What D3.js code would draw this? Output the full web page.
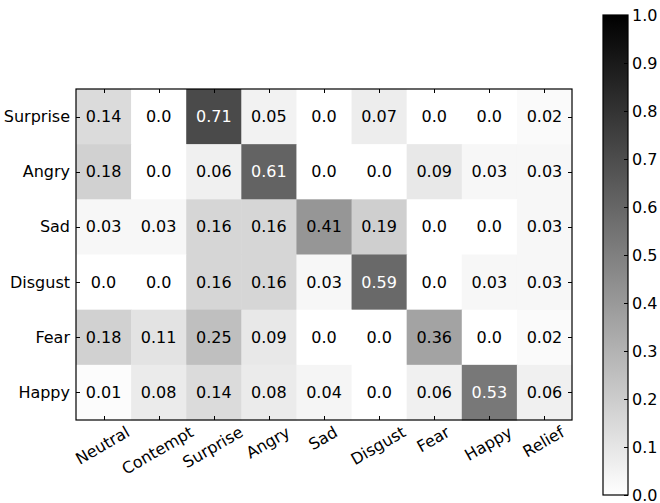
<!DOCTYPE html>
<html>
<head>
<meta charset="utf-8">
<script src="https://cdn.jsdelivr.net/npm/d3@7"></script>
<style>
  body { margin: 0; background: #fff; }
  text { font-family: "DejaVu Sans", sans-serif; font-size: 16px; }
</style>
</head>
<body>
<div id="chart"></div>
<script>
const rowLabels = ["Surprise", "Angry", "Sad", "Disgust", "Fear", "Happy"];
const colLabels = ["Neutral", "Contempt", "Surprise", "Angry", "Sad", "Disgust", "Fear", "Happy", "Relief"];
const matrix = [
  [0.14, 0.0, 0.71, 0.05, 0.0, 0.07, 0.0, 0.0, 0.02],
  [0.18, 0.0, 0.06, 0.61, 0.0, 0.0, 0.09, 0.03, 0.03],
  [0.03, 0.03, 0.16, 0.16, 0.41, 0.19, 0.0, 0.0, 0.03],
  [0.0, 0.0, 0.16, 0.16, 0.03, 0.59, 0.0, 0.03, 0.03],
  [0.18, 0.11, 0.25, 0.09, 0.0, 0.0, 0.36, 0.0, 0.02],
  [0.01, 0.08, 0.14, 0.08, 0.04, 0.0, 0.06, 0.53, 0.06]
];
const colorbarTicks = [0.0, 0.1, 0.2, 0.3, 0.4, 0.5, 0.6, 0.7, 0.8, 0.9, 1.0];

const width = 660, height = 503;
const plot = { left: 76, top: 89, right: 572, bottom: 420 };
const bar = { left: 603, right: 628, top: 15, bottom: 495 };
const tickLen = 4;

const svg = d3.select("#chart").append("svg")
  .attr("width", width)
  .attr("height", height);

const x = d3.scaleBand().domain(colLabels).range([plot.left, plot.right]);
const y = d3.scaleBand().domain(rowLabels).range([plot.top, plot.bottom]);
// linear white -> black, like matplotlib's "binary"
const color = d3.scaleLinear().domain([0, 1]).range(["#ffffff", "#000000"]);
const fmt = v => v === 0 ? "0.0" : String(v);

const cells = [];
matrix.forEach((row, i) => row.forEach((v, j) => {
  cells.push({ row: rowLabels[i], col: colLabels[j], value: v });
}));

svg.append("g").selectAll("rect")
  .data(cells)
  .enter()
  .append("rect")
  .attr("x", d => x(d.col))
  .attr("y", d => y(d.row))
  .attr("width", x.bandwidth() + 0.5)
  .attr("height", y.bandwidth() + 0.5)
  .attr("fill", d => color(d.value));

svg.append("g").selectAll("text")
  .data(cells)
  .enter()
  .append("text")
  .attr("x", d => x(d.col) + x.bandwidth() / 2)
  .attr("y", d => y(d.row) + y.bandwidth() / 2)
  .attr("text-anchor", "middle")
  .attr("dominant-baseline", "central")
  .attr("fill", d => d.value > 0.5 ? "#fff" : "#000")
  .text(d => fmt(d.value));

// ticks (inward, all four sides)
const ticks = svg.append("g").attr("stroke", "#000").attr("stroke-width", 1);
colLabels.forEach(c => {
  const cx = Math.round(x(c) + x.bandwidth() / 2) + 0.5;
  ticks.append("line").attr("x1", cx).attr("x2", cx).attr("y1", plot.top).attr("y2", plot.top + tickLen);
  ticks.append("line").attr("x1", cx).attr("x2", cx).attr("y1", plot.bottom).attr("y2", plot.bottom - tickLen);
});
rowLabels.forEach(r => {
  const cy = Math.round(y(r) + y.bandwidth() / 2) + 0.5;
  ticks.append("line").attr("x1", plot.left).attr("x2", plot.left + tickLen).attr("y1", cy).attr("y2", cy);
  ticks.append("line").attr("x1", plot.right).attr("x2", plot.right - tickLen).attr("y1", cy).attr("y2", cy);
});

svg.append("rect")
  .attr("x", plot.left)
  .attr("y", plot.top)
  .attr("width", plot.right - plot.left)
  .attr("height", plot.bottom - plot.top)
  .attr("fill", "none")
  .attr("stroke", "#000")
  .attr("stroke-width", 1.2);

// row labels
svg.append("g").selectAll("text")
  .data(rowLabels)
  .enter()
  .append("text")
  .attr("x", plot.left - 6)
  .attr("y", d => y(d) + y.bandwidth() / 2)
  .attr("text-anchor", "end")
  .attr("dominant-baseline", "central")
  .text(d => d);

// column labels, rotated 30 degrees, bbox top just under the axis
const colText = svg.append("g").selectAll("text")
  .data(colLabels)
  .enter()
  .append("text")
  .attr("text-anchor", "middle")
  .attr("dominant-baseline", "central")
  .text(d => d);
colText.each(function(d) {
  const w = this.getComputedTextLength();
  const h = 13;
  const a = Math.PI / 6;
  const bh = w * Math.sin(a) + h * Math.cos(a);
  const cx = x(d) + x.bandwidth() / 2 - 1;
  const cy = plot.bottom + 5 + bh / 2;
  d3.select(this)
    .attr("transform", `translate(${cx},${cy}) rotate(-30)`);
});

// colorbar
const cb = d3.scaleLinear().domain([0, 1]).range([bar.bottom, bar.top]);
const grad = svg.append("defs").append("linearGradient")
  .attr("id", "cbgrad")
  .attr("x1", 0).attr("x2", 0).attr("y1", 1).attr("y2", 0);
grad.append("stop").attr("offset", 0).attr("stop-color", color(0));
grad.append("stop").attr("offset", 1).attr("stop-color", color(1));
svg.append("rect")
  .attr("x", bar.left)
  .attr("y", bar.top)
  .attr("width", bar.right - bar.left)
  .attr("height", bar.bottom - bar.top)
  .attr("fill", "url(#cbgrad)")
  .attr("stroke", "#000")
  .attr("stroke-width", 1.2);

const cbAxis = svg.append("g");
colorbarTicks.forEach(t => {
  const ty = Math.round(cb(t)) + 0.5;
  cbAxis.append("line")
    .attr("x1", bar.right - tickLen).attr("x2", bar.right)
    .attr("y1", ty).attr("y2", ty)
    .attr("stroke", "#000");
  cbAxis.append("text")
    .attr("x", bar.right + 4)
    .attr("y", cb(t))
    .attr("dominant-baseline", "central")
    .text(d3.format(".1f")(t));
});
</script>
</body>
</html>
